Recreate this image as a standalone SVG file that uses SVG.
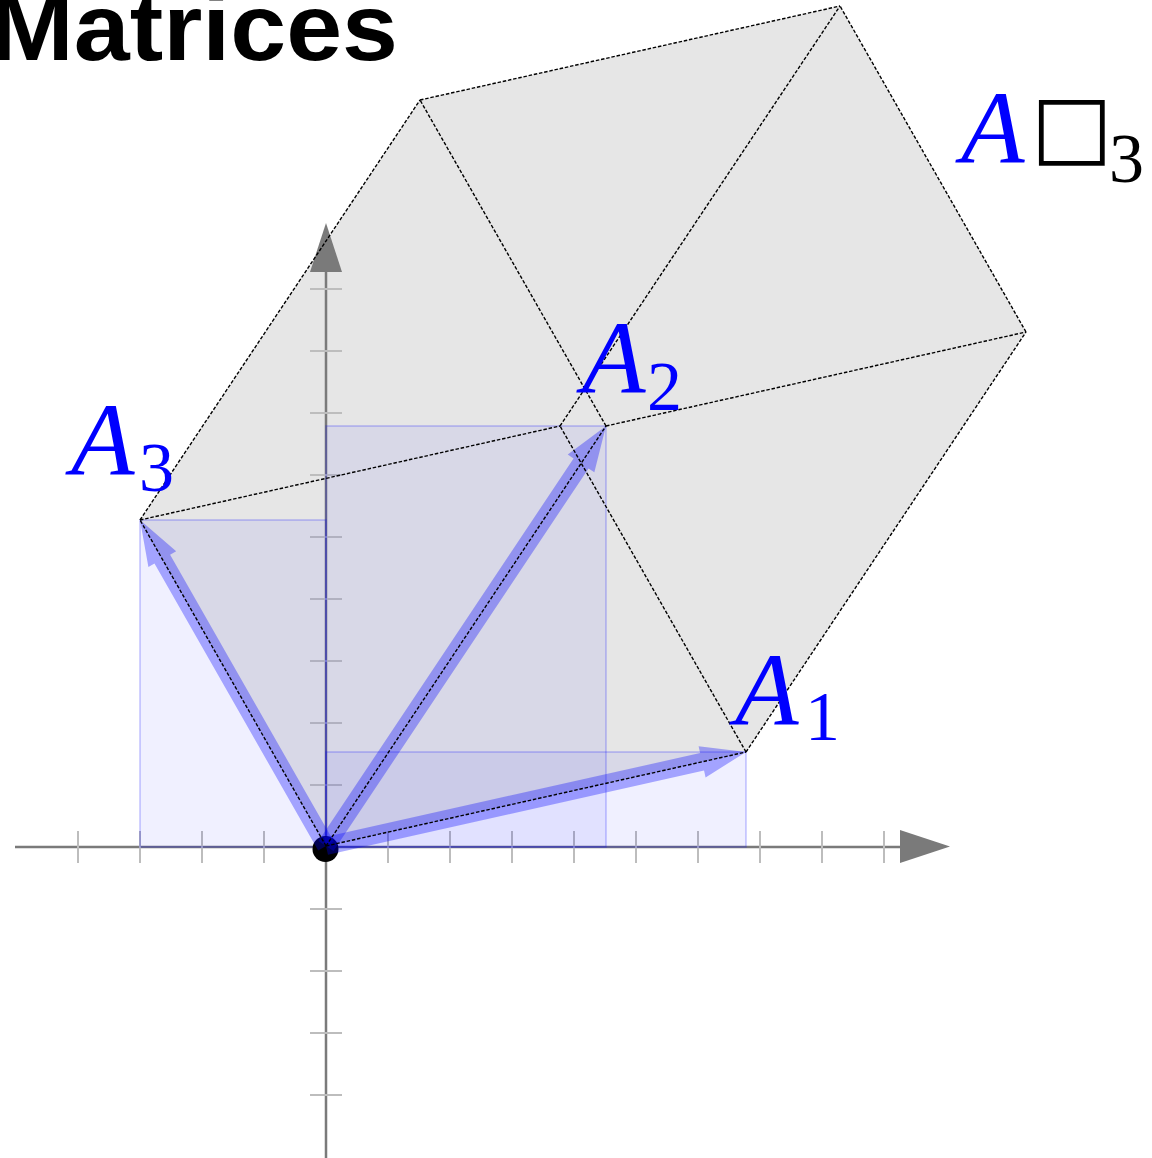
<svg xmlns="http://www.w3.org/2000/svg" width="1152" height="1158" viewBox="0 0 1152 1158">
<style>
.axis{stroke:#7a7a7a;stroke-width:2.5;fill:none}
.axhead{fill:#7a7a7a}
.tick{stroke:#bdbdbd;stroke-width:2}
.hull{fill:#e6e6e6;stroke:none}
.box{fill:#0000ff;fill-opacity:0.06;stroke:#0000ff;stroke-opacity:0.22;stroke-width:1.6}
.edge{stroke:#000;stroke-width:1.4;stroke-dasharray:3.5 1.8;fill:none}
.vec{fill:#0000ff;fill-opacity:0.32;stroke:none}
.lab{font-family:"Liberation Serif","Times New Roman",serif;fill:#0000ff}
.it{font-style:italic;font-size:104px}
.sub{font-size:70px}
</style>
<rect width="1152" height="1158" fill="#fff"/>
<text x="-10" y="60" font-family="Liberation Sans, Arial, sans-serif" font-weight="bold" font-size="94" textLength="408" lengthAdjust="spacingAndGlyphs" fill="#000">Matrices</text>
<g id="zonotope">
<polygon class="hull" points="326,846 746,752 1026,332 840,6 420,100 140,520"/>
</g>
<g id="axes">
<line class="axis" x1="15" y1="847" x2="902" y2="847"/>
<polygon class="axhead" points="900,830 950,846.5 900,863"/>
<line class="axis" x1="326" y1="1158" x2="326" y2="270"/>
<polygon class="axhead" points="310,272 326,223 342,272"/>
<g class="tick">
<line x1="78" y1="831" x2="78" y2="863"/><line x1="140" y1="831" x2="140" y2="863"/><line x1="202" y1="831" x2="202" y2="863"/><line x1="264" y1="831" x2="264" y2="863"/>
<line x1="388" y1="831" x2="388" y2="863"/><line x1="450" y1="831" x2="450" y2="863"/><line x1="512" y1="831" x2="512" y2="863"/><line x1="574" y1="831" x2="574" y2="863"/><line x1="636" y1="831" x2="636" y2="863"/><line x1="698" y1="831" x2="698" y2="863"/><line x1="760" y1="831" x2="760" y2="863"/><line x1="822" y1="831" x2="822" y2="863"/><line x1="884" y1="831" x2="884" y2="863"/>
<line x1="310" y1="909" x2="342" y2="909"/><line x1="310" y1="971" x2="342" y2="971"/><line x1="310" y1="1033" x2="342" y2="1033"/><line x1="310" y1="1095" x2="342" y2="1095"/>
<line x1="310" y1="785" x2="342" y2="785"/><line x1="310" y1="723" x2="342" y2="723"/><line x1="310" y1="661" x2="342" y2="661"/><line x1="310" y1="599" x2="342" y2="599"/><line x1="310" y1="537" x2="342" y2="537"/><line x1="310" y1="475" x2="342" y2="475"/><line x1="310" y1="413" x2="342" y2="413"/><line x1="310" y1="351" x2="342" y2="351"/><line x1="310" y1="289" x2="342" y2="289"/>
</g>
</g>
<g id="boxes">
<rect class="box" x="140" y="520" width="186" height="327"/>
<rect class="box" x="326" y="426" width="280" height="421"/>
<rect class="box" x="326" y="752" width="420" height="95"/>
</g>
<g id="node-origin">
<circle cx="325.5" cy="849" r="13" fill="#000"/>
</g>
<g id="connectors">
<polygon class="vec" points="327.97,854.78 704.05,770.61 705.57,777.44 746,752 698.59,746.22 700.11,753.05 324.03,837.22"/>
<polygon class="vec" points="333.49,850.99 588.53,468.43 594.35,472.32 606,426 567.73,454.57 573.55,458.45 318.51,841.01"/>
<polygon class="vec" points="333.82,841.54 170.12,554.63 176.20,551.16 140,520 148.40,567.02 154.48,563.55 318.18,850.46"/>
<g class="edge">
<line x1="326" y1="846" x2="746" y2="752"/>
<line x1="326" y1="846" x2="606" y2="426"/>
<line x1="326" y1="846" x2="140" y2="520"/>
<line x1="746" y1="752" x2="1026" y2="332"/>
<line x1="746" y1="752" x2="560" y2="426"/>
<line x1="606" y1="426" x2="1026" y2="332"/>
<line x1="606" y1="426" x2="420" y2="100"/>
<line x1="140" y1="520" x2="560" y2="426"/>
<line x1="140" y1="520" x2="420" y2="100"/>
<line x1="1026" y1="332" x2="840" y2="6"/>
<line x1="560" y1="426" x2="840" y2="6"/>
<line x1="420" y1="100" x2="840" y2="6"/>
</g>
</g>
<g id="node-A1">
<text class="lab"><tspan class="it" x="735" y="725">A</tspan><tspan class="sub" x="805" y="740">1</tspan></text>
</g>
<g id="node-A2">
<text class="lab"><tspan class="it" x="582" y="393">A</tspan><tspan class="sub" x="647" y="410">2</tspan></text>
</g>
<g id="node-A3">
<text class="lab"><tspan class="it" x="71" y="475">A</tspan><tspan class="sub" x="139" y="491">3</tspan></text>
</g>
<g id="node-Abox3">
<text class="lab"><tspan class="it" x="961" y="163">A</tspan><tspan x="1031" y="155" font-family="DejaVu Sans, sans-serif" font-size="86" fill="#000">□</tspan><tspan class="sub" x="1109" y="182" fill="#000">3</tspan></text>
</g>
</svg>
